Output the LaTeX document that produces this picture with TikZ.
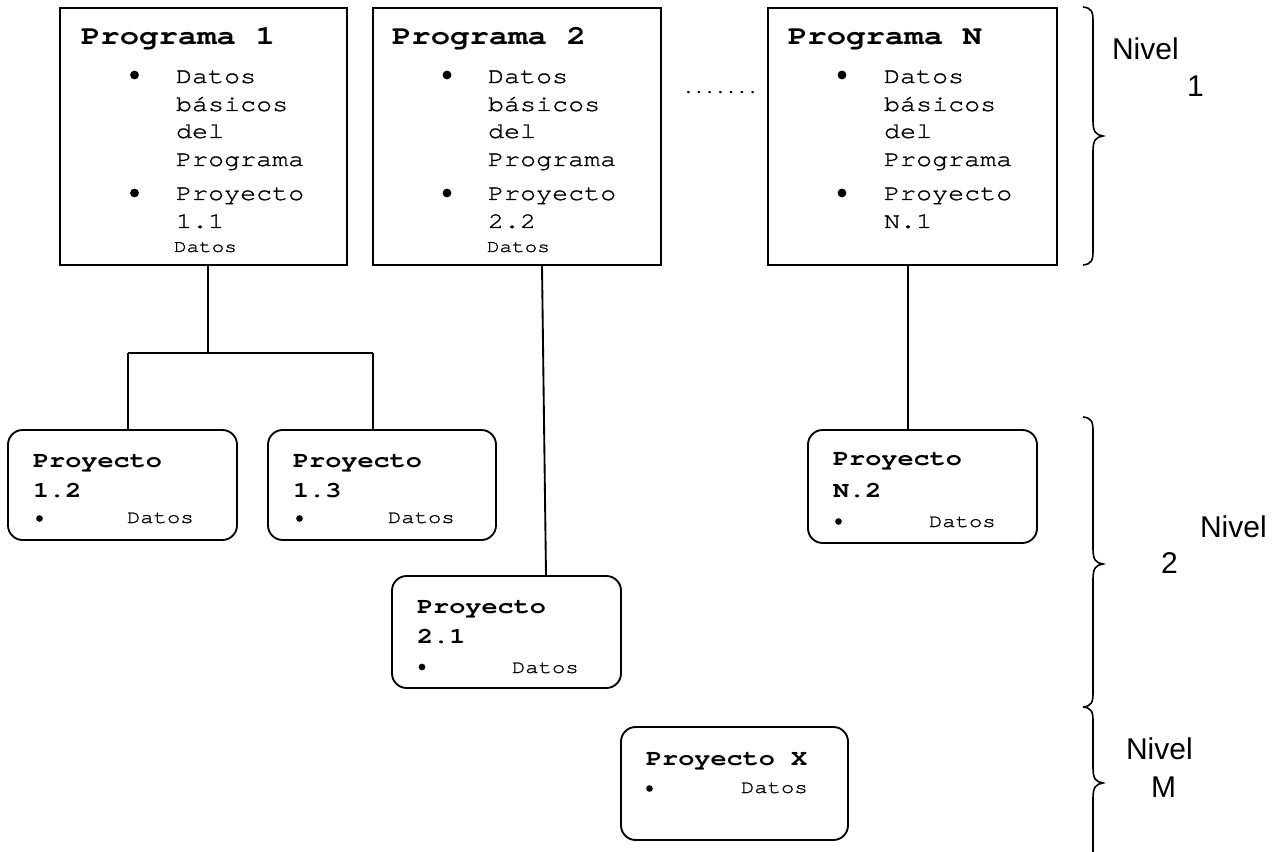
\documentclass[tikz,border=0pt]{standalone}
\usepackage{fontspec}
\setmainfont{Liberation Sans}
\newfontfamily\cour[Extension=.otf, UprightFont=texgyrecursor-regular, BoldFont=texgyrecursor-bold, FakeStretch=1.2, UprightFeatures={FakeBold=1.3}]{texgyrecursor}
\newfontfamily\plaincour[Extension=.otf, UprightFont=texgyrecursor-regular, BoldFont=texgyrecursor-bold]{texgyrecursor}
\usetikzlibrary{fit}
\newcommand\fTitle{\cour\bfseries\fontsize{20.2}{24}\selectfont}
\newcommand\fBody{\cour\fontsize{16.7}{20}\selectfont}
\newcommand\fSmall{\cour\fontsize{13.1}{16}\selectfont}
\newcommand\fPTitle{\cour\bfseries\fontsize{16.8}{20}\selectfont}
\newcommand\fPSmall{\cour\fontsize{13.9}{16}\selectfont}
\newcommand\fNivel{\fontsize{22.5}{26}\selectfont}
\begin{document}
\begin{tikzpicture}[x=0.75pt,y=-0.75pt,
  progbox/.style={draw, line width=1.4pt, inner sep=0pt},
  projbox/.style={draw, line width=1.4pt, inner sep=0pt, rounded corners=11pt},
  txt/.style={anchor=base west, inner sep=0pt, outer sep=0pt},
  bigdot/.style={circle, fill, inner sep=0pt, minimum size=6.6pt},
  smalldot/.style={circle, fill, inner sep=0pt, minimum size=5pt},
  conn/.style={line width=1.4pt},
  bracestyle/.style={line width=1.2pt}]
\useasboundingbox (0,0) rectangle (1279,852);

% ---------- Level 1 boxes ----------
\node[progbox, fit={(60,8)(347,265)}] (p1) {};
\node[progbox, fit={(373,8)(661,265)}] (p2) {};
\node[progbox, fit={(768,8)(1057,265)}] (pN) {};

% Programa 1
\node[txt, font=\fTitle] (p1t) at (81,45) {Programa 1};
\node[bigdot] (p1b1) at (134.5,75) {};
\node[txt, font=\fBody] (p1l1) at (176,83) {Datos};
\node[txt, font=\fBody] (p1l2) at (176,111) {básicos};
\node[txt, font=\fBody] (p1l3) at (176,138) {del};
\node[txt, font=\fBody] (p1l4) at (176,166) {Programa};
\node[bigdot] (p1b2) at (134.5,193) {};
\node[txt, font=\fBody] (p1l5) at (176,200) {Proyecto};
\node[txt, font=\fBody] (p1l6) at (176,228) {1.1};
\node[txt, font=\fSmall] (p1l7) at (174,252) {Datos};

% Programa 2
\node[txt, font=\fTitle] (p2t) at (392,45) {Programa 2};
\node[bigdot] (p2b1) at (447,75) {};
\node[txt, font=\fBody] (p2l1) at (488,83) {Datos};
\node[txt, font=\fBody] (p2l2) at (488,111) {básicos};
\node[txt, font=\fBody] (p2l3) at (488,138) {del};
\node[txt, font=\fBody] (p2l4) at (488,166) {Programa};
\node[bigdot] (p2b2) at (447,193) {};
\node[txt, font=\fBody] (p2l5) at (488,200) {Proyecto};
\node[txt, font=\fBody] (p2l6) at (488,228) {2.2};
\node[txt, font=\fSmall] (p2l7) at (487,252) {Datos};

% Programa N
\node[txt, font=\fTitle] (pNt) at (788,45) {Programa N};
\node[bigdot] (pNb1) at (842,75) {};
\node[txt, font=\fBody] (pNl1) at (884,83) {Datos};
\node[txt, font=\fBody] (pNl2) at (884,111) {básicos};
\node[txt, font=\fBody] (pNl3) at (884,138) {del};
\node[txt, font=\fBody] (pNl4) at (884,166) {Programa};
\node[bigdot] (pNb2) at (842,193) {};
\node[txt, font=\fBody] (pNl5) at (884,200) {Proyecto};
\node[txt, font=\fBody] (pNl6) at (884,228) {N.1};

% dots
\node[txt, font=\plaincour\bfseries\fontsize{13.4}{16}\selectfont] (dots) at (683,94) {.......};

% ---------- Level 2 boxes ----------
\node[projbox, fit={(8,430)(237,540)}] (p12) {};
\node[txt, font=\fPTitle] (p12t) at (33,467) {Proyecto};
\node[txt, font=\fPTitle] (p12n) at (33,497) {1.2};
\node[smalldot] (p12b) at (39.5,518.5) {};
\node[txt, font=\fPSmall] (p12d) at (127,523) {Datos};

\node[projbox, fit={(268,430)(496,540)}] (p13) {};
\node[txt, font=\fPTitle] (p13t) at (293,467) {Proyecto};
\node[txt, font=\fPTitle] (p13n) at (293,497) {1.3};
\node[smalldot] (p13b) at (299.5,518.5) {};
\node[txt, font=\fPSmall] (p13d) at (388,523) {Datos};

\node[projbox, fit={(392,576)(621,688)}] (p21) {};
\node[txt, font=\fPTitle] (p21t) at (417,613) {Proyecto};
\node[txt, font=\fPTitle] (p21n) at (417,643) {2.1};
\node[smalldot] (p21b) at (422,667) {};
\node[txt, font=\fPSmall] (p21d) at (512,673) {Datos};

\node[projbox, fit={(808,430)(1037,543)}] (pN2) {};
\node[txt, font=\fPTitle] (pN2t) at (833,465) {Proyecto};
\node[txt, font=\fPTitle] (pN2n) at (833,497) {N.2};
\node[smalldot] (pN2b) at (838.5,521.5) {};
\node[txt, font=\fPSmall] (pN2d) at (929,527) {Datos};

\node[projbox, fit={(621,727)(848,840)}] (pX) {};
\node[txt, font=\fPTitle] (pXt) at (646,765) {Proyecto X};
\node[smalldot] (pXb) at (649.5,788.5) {};
\node[txt, font=\fPSmall] (pXd) at (741,793) {Datos};

% ---------- connectors ----------
\coordinate (j1) at (208,353);
\coordinate (b12) at (128,353);
\coordinate (b13) at (373,353);
\draw[conn] (p1.south -| j1) -- (j1);
\draw[conn] (b12) -- (b13);
\draw[conn] (b12) -- (p12.north -| b12);
\draw[conn] (b13) -- (p13.north -| b13);
\coordinate (c2a) at (542,0);
\coordinate (c2b) at (546,0);
\draw[conn] (p2.south -| c2a) -- (p21.north -| c2b);
\coordinate (cN) at (908,0);
\draw[conn] (pN.south -| cN) -- (pN2.north -| cN);

% ---------- braces ----------
\newcommand\levelbrace[3]{%
  \draw[bracestyle] (1083,#1) .. controls (1092,{#1+1}) and (1093,{#1+5}) .. (1093,{#1+15})
    -- (1093,{#2-15}) .. controls (1093,{#2-4}) and (1096,{#2-1}) .. (1103,#2)
    .. controls (1096,{#2+1}) and (1093,{#2+4}) .. (1093,{#2+15})
    -- (1093,{#3-15}) .. controls (1093,{#3-5}) and (1092,{#3-1}) .. (1083,#3);}
\levelbrace{7}{136}{265}
\levelbrace{417}{564}{707}
\levelbrace{707}{783}{866}

% ---------- level labels ----------
\node[txt, font=\fNivel] (n1a) at (1112,60) {Nivel};
\node[txt, font=\fNivel] (n1b) at (1187,97) {1};
\node[txt, font=\fNivel] (n2a) at (1200,537) {Nivel};
\node[txt, font=\fNivel] (n2b) at (1161,573) {2};
\node[txt, font=\fNivel] (nMa) at (1126,759) {Nivel};
\node[txt, font=\fNivel] (nMb) at (1151,797) {M};
\end{tikzpicture}
\end{document}
